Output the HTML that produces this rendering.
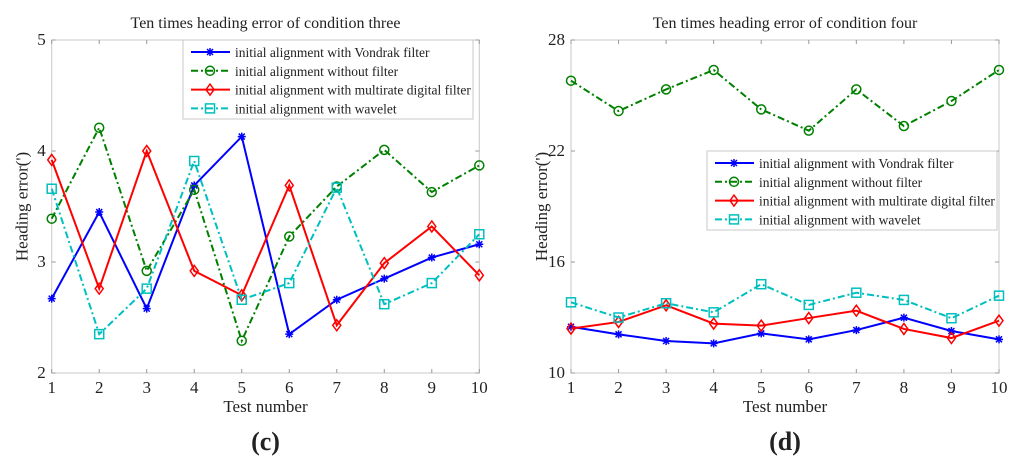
<!DOCTYPE html>
<html><head><meta charset="utf-8"><style>
body{margin:0;background:#fff;}
svg{display:block;font-family:"Liberation Serif",serif;}
</style></head><body>
<svg id="svg" width="1024" height="475" viewBox="0 0 1024 475" xmlns="http://www.w3.org/2000/svg"></svg>
<script>
const testNumbers=[1,2,3,4,5,6,7,8,9,10];
const c3Vondrak=[2.67,3.45,2.58,3.69,4.13,2.35,2.66,2.85,3.04,3.16];
const c3Without=[3.39,4.21,2.92,3.65,2.29,3.23,3.68,4.01,3.63,3.87];
const c3Multirate=[3.92,2.76,4.0,2.92,2.70,3.69,2.43,2.99,3.32,2.88];
const c3Wavelet=[3.66,2.35,2.76,3.91,2.66,2.81,3.67,2.62,2.81,3.25];
const c4Vondrak=[12.5,12.09,11.73,11.6,12.14,11.82,12.32,12.99,12.27,11.82];
const c4Without=[25.8,24.16,25.33,26.38,24.25,23.1,25.33,23.35,24.7,26.38];
const c4Multirate=[12.4,12.76,13.66,12.67,12.56,12.97,13.37,12.38,11.89,12.83];
const c4Wavelet=[13.82,13.0,13.77,13.28,14.8,13.68,14.34,13.95,12.96,14.18];
const c3Ticks=[2,3,4,5];
const c4Ticks=[10,16,22,28];
const legendLabels=["initial alignment with Vondrak filter","initial alignment without filter","initial alignment with multirate digital filter","initial alignment with wavelet"];

const NS="http://www.w3.org/2000/svg";
const svg=document.getElementById('svg');
function mk(tag,attrs,parent){const e=document.createElementNS(NS,tag);for(const k in attrs)e.setAttribute(k,attrs[k]);(parent||svg).appendChild(e);return e;}
const styles=[{c:'#0000ff',dash:'',m:'star'},{c:'#008000',dash:'7,3,2,3',m:'circle'},{c:'#ff0000',dash:'',m:'diamond'},{c:'#00bfbf',dash:'7,3,2,3',m:'square'}];
function marker(g,m,x,y,c){
  let e;
  if(m==='star'){e=mk('path',{d:`M${x-4},${y}L${x+4},${y}M${x},${y-4}L${x},${y+4}M${x-3},${y-3}L${x+3},${y+3}M${x-3},${y+3}L${x+3},${y-3}`,stroke:c,'stroke-width':1.5,fill:'none'},g);}
  else if(m==='circle'){e=mk('circle',{cx:x,cy:y,r:4.5,stroke:c,'stroke-width':1.5,fill:'none'},g);}
  else if(m==='diamond'){e=mk('path',{d:`M${x},${y-5.5}L${x+4},${y}L${x},${y+5.5}L${x-4},${y}Z`,stroke:c,'stroke-width':1.5,fill:'none'},g);}
  else {e=mk('rect',{x:x-4.5,y:y-4.5,width:9,height:9,stroke:c,'stroke-width':1.5,fill:'none'},g);}
  
  
}
function chart(opt){
  const g=mk('g',{});
  
  
  const L=opt.x0,R=opt.x1,T=40,B=373;
  const ymin=opt.ticks[0],ymax=opt.ticks[opt.ticks.length-1];
  const sx=v=>L+(v-1)/(9)*(R-L);
  const sy=v=>B-(v-ymin)/(ymax-ymin)*(B-T);
  const bg=mk('rect',{x:L,y:T,width:R-L,height:B-T,fill:'#fff',stroke:'#c8c8c8','stroke-width':1},g);
  
  testNumbers.forEach(v=>{
    const x=sx(v);
    mk('line',{x1:x,x2:x,y1:B,y2:B-4,stroke:'#999'},g);
    mk('line',{x1:x,x2:x,y1:T,y2:T+4,stroke:'#999'},g);
    const t=mk('text',{x:x,y:B+20,'text-anchor':'middle','font-size':17,fill:'#222'},g);t.textContent=v;
    
  });
  opt.ticks.forEach(v=>{
    const y=sy(v);
    mk('line',{x1:L,x2:L+4,y1:y,y2:y,stroke:'#999'},g);
    mk('line',{x1:R,x2:R-4,y1:y,y2:y,stroke:'#999'},g);
    const t=mk('text',{x:L-6,y:y+5,'text-anchor':'end','font-size':17,fill:'#222'},g);t.textContent=v;
    
  });
  opt.series.forEach((s,i)=>{
    const st=styles[i];
    const p=mk('polyline',{points:s.map((v,j)=>sx(testNumbers[j])+','+sy(v)).join(' '),fill:'none',stroke:st.c,'stroke-width':2,'stroke-dasharray':st.dash},g);
    
    s.forEach((v,j)=>marker(g,st.m,sx(testNumbers[j]),sy(v),st.c));
  });
  const tt=mk('text',{x:(L+R)/2,y:28,'text-anchor':'middle','font-size':16,fill:'#222'},g);tt.textContent=opt.title;
  
  const xt=mk('text',{x:(L+R)/2,y:412,'text-anchor':'middle','font-size':17,fill:'#222'},g);xt.textContent='Test number';
  
  const yt=mk('text',{x:0,y:0,'text-anchor':'middle','font-size':17,fill:'#222',transform:`translate(${L-24},${(T+B)/2}) rotate(-90)`},g);yt.textContent="Heading error(')";
  
  const lg=mk('g',{},g);
  
  mk('rect',{x:opt.lx,y:opt.ly,width:290,height:79,fill:'#fff',stroke:'#c8c8c8'},lg);
  legendLabels.forEach((lab,i)=>{
    const st=styles[i];const y=opt.ly+12+i*18.8;
    const le=mk('g',{},lg);
    
    mk('line',{x1:opt.lx+8,x2:opt.lx+47,y1:y,y2:y,stroke:st.c,'stroke-width':2,'stroke-dasharray':st.dash},le);
    marker(le,st.m,opt.lx+27,y,st.c);
    const t=mk('text',{x:opt.lx+52,y:y+5,'font-size':13.5,fill:'#222'},le);t.textContent=lab;
  });
  const lbl=mk('text',{x:(L+R)/2,y:450,'text-anchor':'middle','font-size':26,'font-weight':'bold',fill:'#222'},g);lbl.textContent=opt.label;
  
}
chart({name:'chart-condition-three',x0:51.7,x1:479.3,ticks:c3Ticks,series:[c3Vondrak,c3Without,c3Multirate,c3Wavelet],title:'Ten times heading error of condition three',lx:183,ly:40,label:'(c)'});
chart({name:'chart-condition-four',x0:571,x1:999,ticks:c4Ticks,series:[c4Vondrak,c4Without,c4Multirate,c4Wavelet],title:'Ten times heading error of condition four',lx:707,ly:151,label:'(d)'});
</script>
</body></html>
